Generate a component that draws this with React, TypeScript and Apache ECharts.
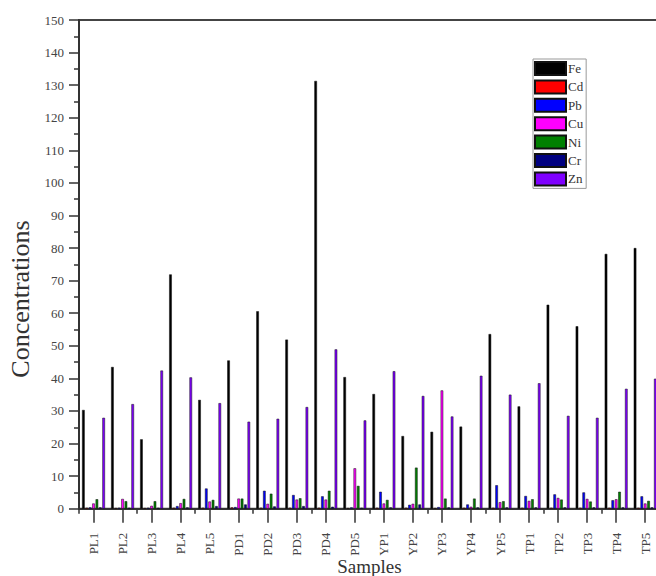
import React, { useEffect, useRef } from "react";
import * as echarts from "echarts";

const categories = [
  "PL1", "PL2", "PL3", "PL4", "PL5",
  "PD1", "PD2", "PD3", "PD4", "PD5",
  "YP1", "YP2", "YP3", "YP4", "YP5",
  "TP1", "TP2", "TP3", "TP4", "TP5",
];

const seriesNames = ["Fe", "Cd", "Pb", "Cu", "Ni", "Cr", "Zn"];
const seriesColors = ["#000000", "#ff0000", "#0000ff", "#ff00ff", "#008000", "#000080", "#7f00ff"];

const fe = [30.3, 43.5, 21.3, 71.9, 33.4, 45.5, 60.6, 51.9, 131.3, 40.4, 35.2, 22.3, 23.6, 25.2, 53.6, 31.4, 62.6, 56.0, 78.2, 80.0];
const cd = [0.3, 0.2, 0.2, 0.3, 0.3, 0.4, 0.3, 0.3, 0.3, 0.2, 0.3, 0.3, 0.2, 0.3, 0.3, 0.3, 0.3, 0.3, 0.3, 0.3];
const pb = [0.4, 0.3, 0.3, 0.8, 6.2, 0.5, 5.5, 4.2, 3.8, 0.4, 5.2, 1.2, 0.5, 1.3, 7.2, 3.9, 4.4, 5.0, 2.6, 3.8];
const cu = [1.6, 3.0, 0.9, 1.7, 2.2, 3.1, 1.5, 2.8, 2.8, 12.4, 1.6, 1.5, 36.3, 0.6, 2.0, 2.4, 3.3, 3.0, 2.9, 1.6];
const ni = [2.9, 2.3, 2.3, 3.0, 2.7, 3.1, 4.6, 3.2, 5.5, 7.0, 2.7, 12.6, 3.1, 3.1, 2.3, 2.9, 2.8, 2.2, 5.2, 2.4];
const cr = [0.4, 0.3, 0.3, 0.4, 0.8, 1.3, 0.7, 0.8, 0.6, 0.3, 0.4, 1.3, 0.4, 0.4, 0.4, 0.4, 0.4, 0.4, 0.4, 0.4];
const zn = [27.9, 32.1, 42.4, 40.3, 32.4, 26.7, 27.6, 31.2, 48.9, 27.1, 42.2, 34.6, 28.3, 40.8, 35.0, 38.5, 28.5, 27.9, 36.8, 39.9];

const seriesValues = [fe, cd, pb, cu, ni, cr, zn];

const FONT = "'Liberation Serif', 'Times New Roman', serif";

export default function App() {
  const ref = useRef<HTMLDivElement>(null);

  useEffect(() => {
    if (!ref.current) return;
    const chart = echarts.init(ref.current, undefined, { renderer: "svg" });
    const axisColor = "#333";
    chart.setOption({
      animation: false,
      backgroundColor: "#ffffff",
      grid: {
        left: 79,
        top: 20,
        right: -3.7,
        bottom: 67.3,
        show: true,
        borderColor: "#444",
        borderWidth: 2,
        backgroundColor: "transparent",
        containLabel: false,
        outerBoundsMode: "none",
      },
      legend: {
        orient: "vertical",
        left: 533,
        top: 59,
        padding: [2, 3, 2, 1],
        itemWidth: 31,
        itemHeight: 13,
        itemGap: 3.4,
        icon: "rect",
        borderColor: "#999",
        borderWidth: 1,
        backgroundColor: "#fff",
        textStyle: { fontFamily: FONT, fontSize: 13, color: "#333", padding: [0, 0, 0, -3] },
        data: seriesNames,
      },
      xAxis: [
        {
          type: "category",
          data: categories,
          position: "bottom",
          boundaryGap: true,
          axisLine: { show: true, lineStyle: { color: axisColor, width: 2 } },
          axisTick: { show: true, alignWithLabel: true, length: 14, lineStyle: { color: axisColor, width: 1.5 } },
          axisLabel: {
            rotate: 90,
            margin: 24,
            fontFamily: FONT,
            fontSize: 13,
            color: "#444",
            interval: 0,
          },
          name: "Samples",
          nameLocation: "middle",
          nameGap: 48,
          nameMoveOverlap: false,
          nameTextStyle: { fontFamily: FONT, fontSize: 19, color: "#333", lineHeight: 19 },
          splitLine: { show: false },
        },
        {
          type: "category",
          data: categories,
          position: "bottom",
          boundaryGap: true,
          axisLine: { show: false },
          axisTick: { show: true, alignWithLabel: false, length: 5, lineStyle: { color: axisColor, width: 1.5 } },
          axisLabel: { show: false },
          splitLine: { show: false },
        },
      ],
      yAxis: {
        type: "value",
        min: 0,
        max: 150,
        interval: 10,
        axisLine: { show: true, lineStyle: { color: axisColor, width: 2 } },
        axisTick: { show: true, length: 10, lineStyle: { color: axisColor, width: 1.5 } },
        minorTick: { show: true, splitNumber: 2, length: 5, lineStyle: { color: axisColor, width: 1.5 } },
        splitLine: { show: false },
        minorSplitLine: { show: false },
        axisLabel: { margin: 15, fontFamily: FONT, fontSize: 13, color: "#444" },
      },
      graphic: [
        {
          type: "text",
          x: 20,
          y: 299,
          rotation: Math.PI / 2,
          style: {
            text: "Concentrations",
            fontFamily: FONT,
            fontSize: 26,
            fill: "#333",
            textAlign: "center",
            textVerticalAlign: "middle",
          },
        },
      ],
      series: seriesNames.map((name, i) => ({
        name,
        type: "bar",
        xAxisIndex: 0,
        data: seriesValues[i],
        barWidth: 2.6,
        barGap: "30%",
        itemStyle: { color: seriesColors[i], borderColor: "#111", borderWidth: 0.5 },
      })),
    });
    return () => chart.dispose();
  }, []);

  return (
    <div
      ref={ref}
      style={{ position: "fixed", left: 0, top: 0, width: 656, height: 576, background: "#fff" }}
    />
  );
}
